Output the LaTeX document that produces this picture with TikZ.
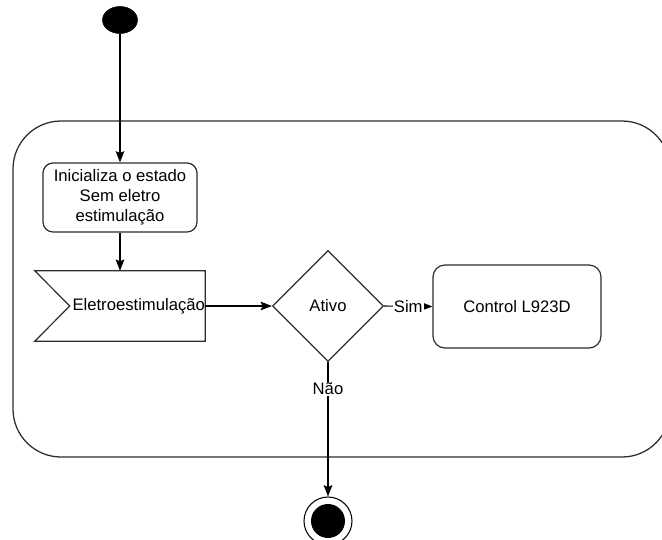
\documentclass[tikz,border=0pt]{standalone}
\usepackage{fontspec}
\setmainfont{Liberation Sans}
\usetikzlibrary{arrows.meta,positioning,calc,shapes.geometric}
\definecolor{linegray}{RGB}{45,45,45}
\newcommand{\diagfont}{\fontsize{12.5pt}{15pt}\selectfont}
\tikzset{
  >={Stealth[length=8.5pt,width=6.5pt,inset=1.5pt]},
  flow/.style={->, line width=0.8pt, draw=black},
  stagebox/.style={shape=rectangle, rounded corners=7.5pt, draw=linegray, line width=0.9pt, align=center, font=\diagfont, inner sep=2pt, minimum width=115.5pt, minimum height=51.75pt},
  controlbox/.style={stagebox, rounded corners=9pt, minimum width=126pt, minimum height=62.25pt},
  flagbox/.style={shape=rectangle, inner xsep=0pt, inner ysep=2pt, text width=127.5pt, align=right, minimum height=52.5pt, font=\diagfont},
  shapeline/.style={draw=linegray, line width=0.9pt, line join=miter},
  decision/.style={shape=diamond, aspect=1, draw=linegray, line width=0.9pt, minimum width=83.25pt, minimum height=83.25pt, inner sep=0pt, font=\diagfont},
  regionbox/.style={shape=rectangle, rounded corners=36pt, draw=linegray, line width=0.95pt, minimum width=492.75pt, minimum height=252pt},
  startdot/.style={shape=ellipse, fill=black, draw=black, minimum width=26.25pt, minimum height=20.25pt, inner sep=0pt},
  enddot/.style={shape=circle, fill=black, minimum size=25.5pt, inner sep=0pt},
  endring/.style={shape=circle, draw=black, line width=0.8pt, minimum size=36pt, inner sep=0pt},
  edgelabel/.style={fill=white, inner sep=1pt, font=\diagfont}
}

\begin{document}
\begin{tikzpicture}[x=0.75pt, y=-0.75pt]
  \useasboundingbox (0,0) rectangle (662,540);

  \node[regionbox] (region) at (341.5,289) {};

  \node[startdot] (start) at (120,20) {};
  \node[stagebox] (init) at (120,197.5) {Inicializa o estado\\Sem eletro\\estimulação};
  \node[flagbox] (signal) at (120,306) {\raisebox{3pt}{Eletroestimulação}};
  \draw[shapeline] (signal.north west) -- (signal.north east) -- (signal.south east) -- (signal.south west) -- ([xshift=26.25pt]signal.west) -- cycle;
  \node[decision] (decide) at (328,306) {Ativo};
  \node[controlbox] (control) at (517,306.5) {Control L923D};
  \node[endring] (finishring) at (328,521) {};
  \node[enddot] (finish) at (328,521) {};

  \draw[flow] (start.south) -- (init.north);
  \draw[flow] (init.south) -- (signal.north);
  \draw[flow] (signal.east) -- (decide.west);
  \draw[flow] (decide.east) -- node[edgelabel] {Sim} (control.west);
  \draw[flow] (decide.south) -- node[edgelabel, pos=0.2] {Não} (finishring.north);
\end{tikzpicture}
\end{document}
